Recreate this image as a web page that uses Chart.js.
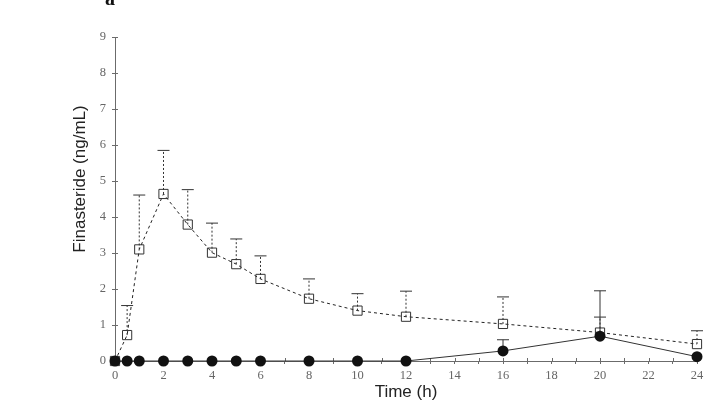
<!DOCTYPE html>
<html>
<head>
<meta charset="utf-8">
<script src="https://cdn.jsdelivr.net/npm/chart.js@4.4.1/dist/chart.umd.min.js"></script>
<style>
html,body{margin:0;padding:0;background:#fff;}
#wrap{width:724px;height:417px;position:relative;}
</style>
</head>
<body>
<div id="wrap"><canvas id="c"></canvas></div>
<script>
// Data
const times = [0, 0.5, 1, 2, 3, 4, 5, 6, 8, 10, 12, 16, 20, 24];
const squareMean = [0, 0.72, 3.10, 4.64, 3.79, 3.01, 2.69, 2.28, 1.73, 1.40, 1.23, 1.03, 0.79, 0.47];
const squareSD   = [0, 0.82, 1.51, 1.21, 0.97, 0.82, 0.70, 0.64, 0.55, 0.47, 0.71, 0.75, 0.43, 0.37];
const circleMean = [0, 0, 0, 0, 0, 0, 0, 0, 0, 0, 0, 0.28, 0.69, 0.12];
const circleSD   = [0, 0, 0, 0, 0, 0, 0, 0, 0, 0, 0, 0.31, 1.26, 0];
const yTicks = [0, 1, 2, 3, 4, 5, 6, 7, 8, 9];
const xLabelTicks = [0, 2, 4, 6, 8, 10, 12, 14, 16, 18, 20, 22, 24];
const xTitle = 'Time (h)';
const yTitle = 'Finasteride (ng/mL)';
const panelLabel = 'a';

const axisColor = '#6b6b6b';
const tickFont = {family: 'Liberation Serif', size: 12.5};
const tickColor = '#666';

const errorBars = {
  id: 'errorBars',
  beforeDatasetsDraw(chart) {
    const ctx = chart.ctx;
    const xs = chart.scales.x, ys = chart.scales.y;
    const x0 = xs.getPixelForValue(0), y0 = ys.getPixelForValue(0);
    // inner halves of tick marks (ticks cross the axes)
    ctx.save();
    ctx.strokeStyle = axisColor;
    ctx.lineWidth = 1;
    xs.ticks.forEach(t => {
      const px = Math.round(xs.getPixelForValue(t.value)) + 0.5;
      ctx.beginPath(); ctx.moveTo(px, y0); ctx.lineTo(px, y0 - 3); ctx.stroke();
    });
    ys.ticks.forEach(t => {
      const py = Math.round(ys.getPixelForValue(t.value)) + 0.5;
      ctx.beginPath(); ctx.moveTo(x0, py); ctx.lineTo(x0 + 3, py); ctx.stroke();
    });
    ctx.restore();
    chart.data.datasets.forEach((ds, di) => {
      const meta = chart.getDatasetMeta(di);
      if (!ds.sd) return;
      ctx.save();
      ctx.strokeStyle = ds.errColor;
      ctx.lineWidth = 1;
      ctx.setLineDash(ds.errDash);
      meta.data.forEach((pt, i) => {
        const sd = ds.sd[i];
        if (!sd) return;
        const top = ys.getPixelForValue(ds.data[i].y + sd);
        ctx.beginPath();
        ctx.moveTo(pt.x, pt.y);
        ctx.lineTo(pt.x, top);
        ctx.stroke();
        ctx.save();
        ctx.setLineDash([]);
        ctx.beginPath();
        ctx.moveTo(pt.x - 6, top);
        ctx.lineTo(pt.x + 6, top);
        ctx.stroke();
        ctx.restore();
      });
      ctx.restore();
    });
  }
};

const decor = {
  id: 'decor',
  afterDraw(chart) {
    const ctx = chart.ctx;
    ctx.save();
    ctx.fillStyle = '#222';
    ctx.font = '17px "Liberation Sans", Arial, sans-serif';
    ctx.textAlign = 'center';
    ctx.textBaseline = 'middle';
    ctx.translate(80, 179);
    ctx.rotate(-Math.PI / 2);
    ctx.fillText(yTitle, 0, 0);
    ctx.restore();
    ctx.save();
    ctx.fillStyle = '#111';
    ctx.font = 'bold 20px "Liberation Serif", serif';
    ctx.textAlign = 'left';
    ctx.textBaseline = 'alphabetic';
    ctx.fillText(panelLabel, 105, 5);
    ctx.restore();
  }
};

const sqPts = times.map((t, i) => ({x: t, y: squareMean[i]}));
const ciPts = times.map((t, i) => ({x: t, y: circleMean[i]}));

new Chart(document.getElementById('c'), {
  type: 'line',
  data: {
    datasets: [
      {
        data: sqPts, sd: squareSD, errColor: '#333', errDash: [2, 2],
        borderColor: '#222', borderWidth: 1, borderDash: [3, 3],
        pointStyle: 'rect', pointRadius: 6.5, pointBorderWidth: 1,
        pointBorderColor: '#333', pointBackgroundColor: 'rgba(0,0,0,0)',
        tension: 0, clip: false, order: 2
      },
      {
        data: ciPts, sd: circleSD, errColor: '#333', errDash: [],
        borderColor: '#333', borderWidth: 1,
        pointStyle: 'circle', pointRadius: 5.5, pointBorderWidth: 0,
        pointBackgroundColor: '#111', pointBorderColor: '#111',
        tension: 0, clip: false, order: 1
      }
    ]
  },
  options: {
    responsive: true,
    maintainAspectRatio: false,
    animation: false,
    layout: {padding: {left: 0, right: 27, top: 37, bottom: 0}},
    plugins: {legend: {display: false}, tooltip: {enabled: false}},
    scales: {
      x: {
        type: 'linear', min: 0, max: 24,
        afterFit(s) { s.height = 56; },
        afterBuildTicks(s) { s.ticks = []; for (let v = 0; v <= 24; v++) s.ticks.push({value: v}); },
        border: {display: true, color: axisColor, width: 1},
        grid: {drawOnChartArea: false, drawTicks: true, tickLength: 3, color: axisColor},
        ticks: {
          autoSkip: false, maxRotation: 0, padding: 4,
          font: tickFont, color: tickColor,
          callback: v => xLabelTicks.includes(v) ? String(v) : ''
        },
        title: {display: true, text: xTitle, color: '#222',
          font: {family: 'Liberation Sans', size: 17}, padding: {top: 0, bottom: 14}}
      },
      y: {
        type: 'linear', min: 0, max: 9,
        afterFit(s) { s.width = 115; },
        afterBuildTicks(s) { s.ticks = yTicks.map(v => ({value: v})); },
        border: {display: true, color: axisColor, width: 1},
        grid: {drawOnChartArea: false, drawTicks: true, tickLength: 3, color: axisColor},
        ticks: {padding: 6, font: tickFont, color: tickColor}
      }
    }
  },
  plugins: [errorBars, decor]
});
</script>
</body>
</html>
